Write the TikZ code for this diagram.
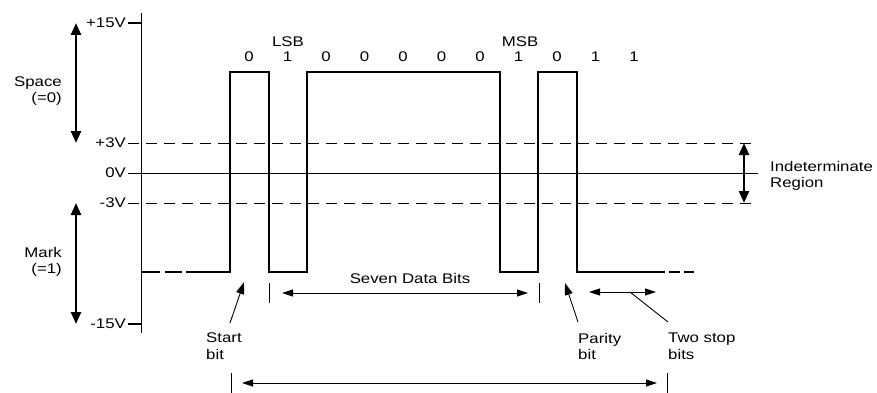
\documentclass[tikz,border=0pt]{standalone}
\usepackage{fontspec}
\setmainfont{Liberation Sans}[FakeStretch=1.2]
\usetikzlibrary{arrows.meta}

\begin{document}
\begin{tikzpicture}[x=1pt,y=-1pt,
  lbl/.style={font=\fontsize{14}{16.5}\selectfont, inner sep=0pt},
  wave/.style={line width=2.4pt, line join=miter},
  axis/.style={line width=1.2pt},
  zero/.style={line width=0.9pt},
  level/.style={line width=0.9pt, dash pattern=on 11pt off 7pt},
  bigarrow/.style={line width=2.4pt, {Triangle[length=12pt,width=10pt]}-{Triangle[length=12pt,width=10pt]}},
  dim/.style={line width=0.9pt, {Triangle[length=11pt,width=7pt]}-{Triangle[length=11pt,width=7pt]}},
  ptr/.style={line width=0.9pt, -{Triangle[length=12pt,width=8pt]}},
  tickmark/.style={line width=0.9pt}]

\useasboundingbox (0,0) rectangle (877,393);

% voltage axis
\coordinate (axTop) at (141.5,13);
\coordinate (axBot) at (141.5,333);
\draw[axis] (axTop) -- (axBot);

% level labels and ticks
\node[lbl, anchor=east] (p15) at (126,23) {+15V};
\node[lbl, anchor=east] (p3)  at (126,143) {+3V};
\node[lbl, anchor=east] (z0)  at (126,173) {0V};
\node[lbl, anchor=east] (m3)  at (126,203) {-3V};
\node[lbl, anchor=east] (m15) at (126,324) {-15V};

\coordinate (t15a) at (128,23);  \coordinate (t15b) at (141.5,23);
\coordinate (tm15a) at (128,324); \coordinate (tm15b) at (141.5,324);
\draw[axis] (t15a) -- (t15b);
\draw[axis] (tm15a) -- (tm15b);

\coordinate (p3a) at (128,143); \coordinate (p3b) at (758,143);
\coordinate (z0a) at (128,173); \coordinate (z0b) at (758,173);
\coordinate (m3a) at (128,203); \coordinate (m3b) at (758,203);
\draw[level] (p3a) -- (p3b);
\draw[zero]  (z0a) -- (z0b);
\draw[level] (m3a) -- (m3b);

% space / mark ranges
\coordinate (spTop) at (76,23);  \coordinate (spBot) at (76,143);
\coordinate (mkTop) at (76,203); \coordinate (mkBot) at (76,324);
\draw[bigarrow] (spTop) -- (spBot);
\draw[bigarrow] (mkTop) -- (mkBot);
\node[lbl, anchor=east, align=right] (space) at (62,91) {Space\\(=0)};
\node[lbl, anchor=east, align=right] (mark) at (62,262) {Mark\\(=1)};

% indeterminate region
\coordinate (inTop) at (744,143); \coordinate (inBot) at (744,203);
\draw[bigarrow] (inTop) -- (inBot);
\node[lbl, anchor=west, align=left] (indet) at (770,176) {Indeterminate\\Region};

% waveform: idle, start bit, 1000001 data, parity 0, two stop bits
\draw[wave] (142,272) -- (160,272);
\draw[wave] (165,272) -- (182,272);
\draw[wave] (186,272) -- (230,272) -- (230,72) -- (269,72) -- (269,272)
  -- (307,272) -- (307,72) -- (500,72) -- (500,272) -- (538,272)
  -- (538,72) -- (577,72) -- (577,272) -- (665,272);
\draw[wave] (669,272) -- (680,272);
\draw[wave] (684,272) -- (694,272);

% bit values
\foreach \v [count=\i from 0] in {0,1,0,0,0,0,0,1,0,1,1}
  \node[lbl] (bit\i) at ({249+38.5*\i},57) {\v};
\node[lbl] (lsb) at (288,42) {LSB};
\node[lbl] (msb) at (520,42) {MSB};

% seven data bits span
\coordinate (dTickLa) at (269,283); \coordinate (dTickLb) at (269,303);
\coordinate (dTickRa) at (539,283); \coordinate (dTickRb) at (539,303);
\draw[tickmark] (dTickLa) -- (dTickLb);
\draw[tickmark] (dTickRa) -- (dTickRb);
\coordinate (sevenL) at (282,293); \coordinate (sevenR) at (528,293);
\draw[dim] (sevenL) -- (sevenR);
\node[lbl] (seven) at (410,278) {Seven Data Bits};

% start bit pointer
\node[lbl, anchor=north west, align=left] (start) at (206,333) {Start\\bit};
\coordinate (stTail) at (230,323); \coordinate (stHead) at (244,282);
\draw[ptr] (stTail) -- (stHead);

% parity bit pointer
\node[lbl, anchor=north west, align=left] (parity) at (578,333) {Parity\\bit};
\coordinate (paTail) at (578,322); \coordinate (paHead) at (565,283);
\draw[ptr] (paTail) -- (paHead);

% two stop bits
\coordinate (stopL) at (589,292); \coordinate (stopR) at (656,292);
\draw[dim] (stopL) -- (stopR);
\node[lbl, anchor=north west, align=left] (stop) at (668,333) {Two stop\\bits};
\coordinate (stopMid) at (630,292); \coordinate (stopLead) at (668,322);
\draw[tickmark] (stopMid) -- (stopLead);

% whole character span
\coordinate (fTickLa) at (231,373); \coordinate (fTickLb) at (231,393);
\coordinate (fTickRa) at (667,373); \coordinate (fTickRb) at (667,393);
\draw[tickmark] (fTickLa) -- (fTickLb);
\draw[tickmark] (fTickRa) -- (fTickRb);
\coordinate (frameL) at (242,383); \coordinate (frameR) at (657,383);
\draw[dim] (frameL) -- (frameR);
\end{tikzpicture}
\end{document}
